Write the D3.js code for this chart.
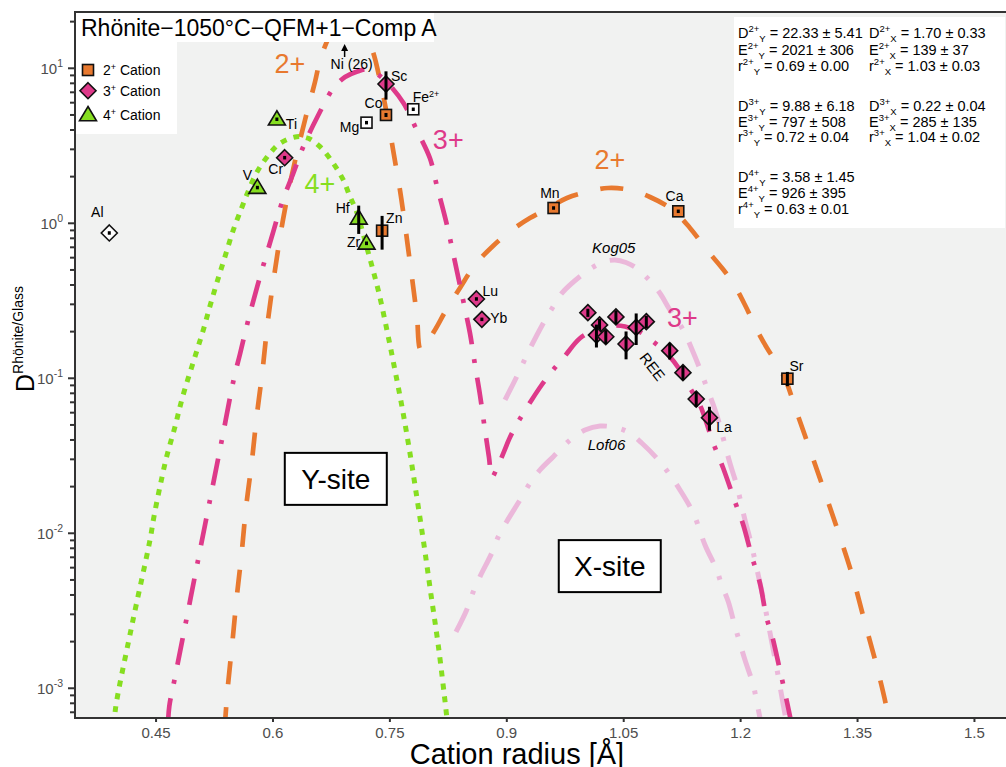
<!DOCTYPE html>
<html>
<head>
<meta charset="utf-8">
<script src="https://cdn.jsdelivr.net/npm/d3@7"></script>
<style>
body { margin: 0; background: #fff; }
svg { font-family: "Liberation Sans", Arial, Helvetica, sans-serif; }
</style>
</head>
<body>
<svg id="chart" width="1006" height="767"></svg>
<script>
// size of the picture and of the grey panel
var svgWidth = 1006;
var svgHeight = 767;
var panel = { left: 75, top: 12, right: 1010, bottom: 718 };

var orange = "#E8792F", magenta = "#DE3A8A", green = "#86DE20", pink = "#EBB8DA";

// axis ticks
var xTicks = [0.45, 0.6, 0.75, 0.9, 1.05, 1.2, 1.35, 1.5];
var xTickLabels = ["0.45", "0.6", "0.75", "0.9", "1.05", "1.2", "1.35", "1.5"];
var yExponents = [-3, -2, -1, 0, 1];

// lattice strain curves: [radius, D]
// 2+ : Y-site fit joined to X-site fit
var curve2 = [[0.5378,5.38e-4],[0.5419,1.0e-3],[0.5478,1.95e-3],[0.5534,3.81e-3],[0.5598,7.43e-3],[0.5654,0.01463],[0.5727,0.02854],[0.5791,0.05654],[0.5863,0.1093],[0.5936,0.2377],[0.6026,0.4995],[0.6128,1.05],[0.6257,2.21],[0.6411,4.64],[0.6539,8.16],[0.6616,11.83],[0.6770,17.67],[0.6962,22.74],[0.7116,19.03],[0.7270,13.32],[0.7386,7.80],[0.7475,4.64],[0.7552,2.76],[0.7629,1.64],[0.7694,0.975],[0.7745,0.624],[0.7796,0.400],[0.7848,0.2486],[0.7899,0.1523],[0.8078,0.2049],[0.8207,0.2677],[0.8399,0.3826],[0.8592,0.5383],[0.8823,0.7138],[0.9066,0.9051],[0.9297,1.082],[0.9515,1.237],[0.9772,1.456],[1.0029,1.592],[1.0298,1.689],[1.0580,1.640],[1.0837,1.478],[1.1132,1.218],[1.1350,0.9326],[1.1568,0.6725],[1.1761,0.5147],[1.1902,0.412],[1.2056,0.2971],[1.2210,0.2049],[1.2338,0.1568],[1.2467,0.1237],[1.2582,0.0961],[1.2697,0.0653],[1.2890,0.0345],[1.3082,0.0182],[1.3275,9.46e-3],[1.3442,5.15e-3],[1.3595,2.64e-3],[1.3749,1.37e-3],[1.3878,7.24e-4],[1.3916,5.38e-4]];
// 3+ : Y-site fit joined to X-site fit
var curve3 = [[0.4653,5.80e-4],[0.4670,7.66e-4],[0.4743,1.178e-3],[0.4888,2.76e-3],[0.5027,6.26e-3],[0.5196,0.01682],[0.5359,0.04371],[0.5497,0.09867],[0.5577,0.1435],[0.5683,0.2377],[0.5833,0.4502],[0.6004,0.8826],[0.6112,1.346],[0.6260,2.101],[0.6389,3.121],[0.6561,4.758],[0.6774,7.430],[0.6924,8.789],[0.7074,9.508],[0.7200,9.824],[0.7334,9.189],[0.7459,8.155],[0.7672,5.999],[0.7844,4.000],[0.8014,2.626],[0.8100,1.766],[0.8229,0.9897],[0.8357,0.4995],[0.8442,0.3152],[0.8527,0.1960],[0.8592,0.1218],[0.8656,0.0780],[0.8720,0.04639],[0.8771,0.03108],[0.8810,0.02307],[0.8874,0.02637],[0.8955,0.03281],[0.9041,0.04161],[0.9147,0.05248],[0.9319,0.07245],[0.9447,0.09052],[0.9576,0.1103],[0.9725,0.1352],[0.9939,0.1812],[1.0131,0.2049],[1.0281,0.2153],[1.0401,0.2191],[1.0516,0.2159],[1.0709,0.1989],[1.0879,0.1722],[1.1051,0.1450],[1.1222,0.1131],[1.1350,0.0866],[1.1478,0.0673],[1.1649,0.03824],[1.1777,0.02627],[1.1927,0.01600],[1.2034,0.01131],[1.2142,7.14e-3],[1.2248,4.76e-3],[1.2334,2.83e-3],[1.2400,2.21e-3],[1.2500,1.34e-3],[1.2600,7.92e-4],[1.2650,6.00e-4]];
// 4+ : Y-site only
var curve4 = [[0.3966,5.80e-4],[0.3979,7.35e-4],[0.4191,2.56e-3],[0.4422,9.05e-3],[0.4473,0.0128],[0.4550,0.01998],[0.4636,0.0312],[0.4743,0.04872],[0.4841,0.07607],[0.4999,0.1378],[0.5106,0.2049],[0.5192,0.2927],[0.5278,0.4101],[0.5384,0.6089],[0.5491,0.9053],[0.5598,1.255],[0.5663,1.522],[0.5795,2.143],[0.5962,2.829],[0.6090,3.282],[0.6304,3.620],[0.6453,3.535],[0.6603,3.121],[0.6774,2.438],[0.6902,1.903],[0.6988,1.484],[0.7065,1.218],[0.7225,0.640],[0.7360,0.3535],[0.7488,0.1767],[0.7552,0.1218],[0.7655,0.0656],[0.7758,0.0328],[0.7851,0.0164],[0.7941,8.19e-3],[0.8025,4.10e-3],[0.8123,1.855e-3],[0.8220,7.24e-4],[0.8240,5.80e-4]];
// literature X-site 3+ curves
var kog05 = [[0.8977,0.07245],[0.9127,0.1024],[0.9276,0.1478],[0.9468,0.2263],[0.9576,0.2800],[0.9704,0.3535],[0.9961,0.4638],[1.0131,0.5303],[1.0260,0.5670],[1.0388,0.5798],[1.0529,0.5587],[1.0666,0.5125],[1.0815,0.4372],[1.0965,0.3535],[1.1093,0.2758],[1.1264,0.2049],[1.1379,0.1523],[1.1478,0.1148],[1.1568,0.0866],[1.1645,0.0683],[1.1713,0.05383],[1.1863,0.02828],[1.1949,0.02049],[1.2056,0.01218],[1.2133,8.66e-3],[1.2248,4.78e-3],[1.2295,3.71e-3],[1.2402,1.96e-3],[1.2451,1.46e-3],[1.2543,8.04e-4],[1.2582,6.24e-4],[1.2595,5.38e-4]];
var lof06 = [[0.8348,2.31e-3],[0.8485,3.20e-3],[0.8570,4.20e-3],[0.8656,5.25e-3],[0.8806,7.43e-3],[0.8891,9.51e-3],[0.8998,0.01188],[0.9169,0.01640],[0.9297,0.02102],[0.9426,0.02561],[0.9596,0.03120],[0.9811,0.03998],[1.0003,0.04638],[1.0196,0.04923],[1.0388,0.04815],[1.0555,0.04503],[1.0731,0.03824],[1.0965,0.02896],[1.1094,0.02377],[1.1222,0.01903],[1.1393,0.01346],[1.1543,8.41e-3],[1.1693,5.80e-3],[1.1757,4.64e-3],[1.1842,3.62e-3],[1.1928,2.50e-3],[1.1992,1.95e-3],[1.2056,1.52e-3],[1.2162,1.05e-3],[1.2206,8.20e-4],[1.2248,6.43e-4],[1.2268,5.38e-4]];

// measured partition coefficients: [name, radius, D, sd]
var cations2 = [["Co",0.745,5.0,0.15],["Zn",0.74,0.896,0.22],["Mn",0.96,1.255,0.03],["Ca",1.12,1.195,0.03],["Sr",1.26,0.0994,0.0105]];
var cations3 = [["Sc",0.745,7.92,1.64],["Cr",0.615,2.65,0.06],["Lu",0.861,0.325,0.005],["Yb",0.868,0.240,0.004],
  ["Er",1.004,0.265,0.016],["Tb",1.040,0.249,0.025],["Y",1.019,0.221,0.021],["Ho",1.015,0.190,0.032],["Dy",1.027,0.1855,0.019],
  ["Eu",1.066,0.213,0.049],["Sm",1.079,0.232,0.021],["Gd",1.053,0.1665,0.034],["Nd",1.109,0.1507,0.0185],["Pr",1.126,0.1087,0.0113],
  ["Ce",1.143,0.0735,0.0082],["La",1.160,0.0557,0.0098]];
var cations4 = [["Ti",0.605,4.69,0.1],["V",0.58,1.70,0.04],["Hf",0.71,1.077,0.223],["Zr",0.72,0.743,0.02]];
var unfitted2 = [["Mg",0.72,4.46,0.1],["Fe",0.78,5.44,0.14]];
var unfitted3 = [["Al",0.39,0.866,0.02]];
var offScale = [["Ni",0.69,26]];

// point labels: [name, dx, dy, anchor]
var pointLabels = [["Al",-12,-21,"middle"],["Ti",9,5,"start"],["V",-10,-13,"middle"],["Cr",-9,11.5,"middle"],
  ["Hf",-16,-10,"middle"],["Zr",-13,-1,"middle"],["Zn",4,-12.5,"start"],["Co",-12.5,-11.7,"middle"],
  ["Mg",-17,4,"middle"],["Sc",5,-8,"start"],["Mn",-3.7,-15.5,"middle"],["Ca",-3.7,-15.3,"middle"],
  ["Sr",9,-12.7,"middle"],["Lu",6,-8.2,"start"],["Yb",8.4,-1,"start"],["La",6.7,9,"start"]];

// curve annotations placed in data space: [text, radius, D]
var chargeNotes = [["2+",0.6218,10.77,orange],["3+",0.8249,3.488,magenta],["4+",0.6603,1.812,green],
  ["2+",1.0324,2.598,orange],["3+",1.1254,0.2467,magenta]];
var refNotes = [["Kog05",1.0372,0.7014],["Lof06",1.0279,0.0374]];
var siteBoxes = [["Y-site",0.6806,0.02244],["X-site",1.0321,6.14e-3]];

// fit results printed top right: [symbol, charge, site, value, error]
var statsY = [["D","2+","Y","22.33","5.41"],["E","2+","Y","2021","306"],["r","2+","Y","0.69","0.00"],
  ["D","3+","Y","9.88","6.18"],["E","3+","Y","797","508"],["r","3+","Y","0.72","0.04"],
  ["D","4+","Y","3.58","1.45"],["E","4+","Y","926","395"],["r","4+","Y","0.63","0.01"]];
var statsX = [["D","2+","X","1.70","0.33"],["E","2+","X","139","37"],["r","2+","X","1.03","0.03"],
  ["D","3+","X","0.22","0.04"],["E","3+","X","285","135"],["r","3+","X","1.04","0.02"]];
var statRows = [38.3, 54.5, 70.5, 110.7, 126.7, 142, 182.3, 198.3, 213.8];

var x = d3.scaleLinear().domain([0.346, 1.5456]).range([panel.left, panel.right]);
var y = d3.scaleLog().domain([6.43e-4, 23.08]).range([panel.bottom, panel.top]);

var svg = d3.select("#chart");

svg.append("defs").append("clipPath").attr("id", "clip")
  .append("rect")
  .attr("x", panel.left).attr("y", panel.top)
  .attr("width", panel.right - panel.left).attr("height", panel.bottom - panel.top);

svg.append("rect")
  .attr("x", panel.left).attr("y", panel.top)
  .attr("width", panel.right - panel.left).attr("height", panel.bottom - panel.top)
  .attr("fill", "#f1f2f1");

var plot = svg.append("g").attr("clip-path", "url(#clip)");

var line = d3.line()
  .x(d => x(d[0]))
  .y(d => y(d[1]))
  .curve(d3.curveCatmullRom.alpha(0.5));

//curves: data, colour, dash, width
var curves = [
  [kog05, pink, "26,15,4,15", 5],
  [lof06, pink, "26,15,4,15", 5],
  [curve2, orange, "23,23", 4.7],
  [curve4, green, "6,7", 5],
  [curve3, magenta, "27,15,4,15", 4.7]
];
curves.forEach(c => {
  plot.append("path")
    .attr("d", line(c[0]))
    .attr("fill", "none")
    .attr("stroke", c[1])
    .attr("stroke-width", c[3])
    .attr("stroke-dasharray", c[2]);
});

// site boxes
siteBoxes.forEach(b => {
  var g = plot.append("g").attr("transform", `translate(${x(b[1])},${y(b[2])})`);
  g.append("rect").attr("x", -51).attr("y", -26).attr("width", 102).attr("height", 52)
    .attr("fill", "#fff").attr("stroke", "#000").attr("stroke-width", 2);
  g.append("text").text(b[0]).attr("text-anchor", "middle").attr("dy", "0.36em")
    .attr("font-size", 28);
});

// curve notes
chargeNotes.forEach(n => {
  plot.append("text").text(n[0])
    .attr("x", x(n[1])).attr("y", y(n[2]))
    .attr("dy", "0.36em").attr("text-anchor", "middle")
    .attr("font-size", 27).attr("fill", n[3]);
});
refNotes.forEach(n => {
  plot.append("text").text(n[0])
    .attr("x", x(n[1])).attr("y", y(n[2]))
    .attr("dy", "0.36em").attr("text-anchor", "middle")
    .attr("font-size", 15).attr("font-style", "italic");
});
plot.append("text").text("REE")
  .attr("transform", `translate(${x(1.0869)},${y(0.1188)}) rotate(52)`)
  .attr("text-anchor", "middle").attr("dy", "0.36em").attr("font-size", 15);

// marker shapes
function drawMarker(g, shape, fill) {
  if (shape === "square") {
    g.append("rect").attr("x", -5.5).attr("y", -5.5).attr("width", 11).attr("height", 11)
      .attr("fill", fill).attr("stroke", "#111").attr("stroke-width", 1.6);
  } else if (shape === "diamond") {
    g.append("path").attr("d", "M0,-8L8,0L0,8L-8,0Z")
      .attr("fill", fill).attr("stroke", "#111").attr("stroke-width", 1.6);
  } else {
    g.append("path").attr("d", "M0,-8.5L8.5,5.8L-8.5,5.8Z")
      .attr("fill", fill).attr("stroke", "#111").attr("stroke-width", 1.6);
  }
}

function drawPoints(data, shape, fill) {
  data.forEach(p => {
    var g = plot.append("g").attr("transform", `translate(${x(p[1])},${y(p[2])})`);
    drawMarker(g, shape, fill);
    var top = y(p[2] + p[3]) - y(p[2]);
    var bot = y(p[2] - p[3]) - y(p[2]);
    if (bot - top < 3.5) { top = -1.75; bot = 1.75; }
    g.append("rect").attr("x", -1.5).attr("y", top).attr("width", 3).attr("height", bot - top)
      .attr("fill", "#000");
  });
}

drawPoints(unfitted2, "square", "#fff");
drawPoints(unfitted3, "diamond", "#fff");
drawPoints(cations4, "triangle", green);
drawPoints(cations2, "square", orange);
drawPoints(cations3, "diamond", magenta);

// point labels
var allPoints = cations2.concat(cations3, cations4, unfitted2, unfitted3);
pointLabels.forEach(l => {
  var p = allPoints.find(q => q[0] === l[0]);
  plot.append("text").text(l[0])
    .attr("x", x(p[1]) + l[1]).attr("y", y(p[2]) + l[2])
    .attr("dy", "0.36em").attr("text-anchor", l[3]).attr("font-size", 14);
});
var fe = unfitted2[1];
var feText = plot.append("text")
  .attr("x", x(fe[1]) - 0.6).attr("y", y(fe[2]) - 12.6)
  .attr("dy", "0.36em").attr("font-size", 14);
feText.append("tspan").text("Fe");
feText.append("tspan").attr("font-size", 9).attr("dy", -5).text("2+");

// Ni is off the scale: arrow and value
offScale.forEach(p => {
  var px = x(p[1]) + 1.5;
  plot.append("line").attr("x1", px).attr("x2", px).attr("y1", 57).attr("y2", 49)
    .attr("stroke", "#000").attr("stroke-width", 1.5);
  plot.append("path").attr("d", `M${px - 3.5},51L${px},44L${px + 3.5},51Z`).attr("fill", "#000");
  plot.append("text").text(p[0] + " (" + p[2] + ")")
    .attr("x", px + 7).attr("y", 64).attr("dy", "0.36em")
    .attr("text-anchor", "middle").attr("font-size", 14);
});

// title box
svg.append("rect").attr("x", panel.left).attr("y", panel.top).attr("width", 359).attr("height", 30)
  .attr("fill", "#fff");
svg.append("text").text("Rh\u00f6nite\u22121050\u00b0C\u2212QFM+1\u2212Comp A")
  .attr("x", 81).attr("y", 36).attr("font-size", 23);

// legend
var legend = svg.append("g");
legend.append("rect").attr("x", panel.left).attr("y", 42).attr("width", 102).attr("height", 92)
  .attr("fill", "#fff");
var legendItems = [["2", "square", orange], ["3", "diamond", magenta], ["4", "triangle", green]];
var legendRows = [70, 90.7, 115];
legendItems.forEach((it, i) => {
  var g = legend.append("g").attr("transform", `translate(88,${legendRows[i]})`);
  drawMarker(g, it[1], it[2]);
  var t = legend.append("text").attr("x", 103).attr("y", legendRows[i]).attr("dy", "0.36em")
    .attr("font-size", 14);
  t.append("tspan").text(it[0]);
  t.append("tspan").attr("font-size", 9).attr("dy", -5).text("+");
  t.append("tspan").attr("dy", 5).text(" Cation");
});

// stats box
var stats = svg.append("g");
stats.append("rect").attr("x", 734).attr("y", 17).attr("width", 271).attr("height", 211)
  .attr("fill", "#fff");
function statLine(xpos, ypos, s) {
  var t = stats.append("text").attr("x", xpos).attr("y", ypos).attr("font-size", 14.5);
  t.append("tspan").text(s[0]);
  t.append("tspan").attr("font-size", 9.5).attr("dy", -6).text(s[1]);
  t.append("tspan").attr("font-size", 9.5).attr("dy", 10).text(s[2]);
  t.append("tspan").attr("dy", -4).text(" = " + s[3] + " \u00b1 " + s[4]);
}
statsY.forEach((s, i) => statLine(738, statRows[i], s));
statsX.forEach((s, i) => statLine(869, statRows[i], s));

// axes
var axisColor = "#333";
svg.append("line").attr("x1", panel.left).attr("x2", panel.left).attr("y1", panel.top).attr("y2", panel.bottom + 1)
  .attr("stroke", axisColor).attr("stroke-width", 2);
svg.append("line").attr("x1", panel.left - 1).attr("x2", svgWidth).attr("y1", panel.bottom).attr("y2", panel.bottom)
  .attr("stroke", axisColor).attr("stroke-width", 2);
svg.append("line").attr("x1", panel.left - 1).attr("x2", svgWidth).attr("y1", panel.top).attr("y2", panel.top)
  .attr("stroke", axisColor).attr("stroke-width", 2);

var xAxis = svg.append("g");
xTicks.forEach((t, i) => {
  xAxis.append("line").attr("x1", x(t)).attr("x2", x(t)).attr("y1", panel.bottom).attr("y2", panel.bottom + 4)
    .attr("stroke", axisColor).attr("stroke-width", 2);
  xAxis.append("text").text(xTickLabels[i]).attr("x", x(t)).attr("y", 738)
    .attr("text-anchor", "middle").attr("font-size", 15).attr("fill", "#4d4d4d");
});

var yAxis = svg.append("g");
yExponents.forEach(e => {
  var v = Math.pow(10, e);
  yAxis.append("line").attr("x1", panel.left - 7).attr("x2", panel.left).attr("y1", y(v)).attr("y2", y(v))
    .attr("stroke", axisColor).attr("stroke-width", 2);
  var t = yAxis.append("text").attr("x", 63).attr("y", y(v) + 5.5).attr("text-anchor", "end")
    .attr("font-size", 15).attr("fill", "#4d4d4d");
  t.append("tspan").text("10");
  t.append("tspan").attr("font-size", 10.5).attr("dy", -6.5).text(e);
});
// minor ticks
d3.range(-4, 2).forEach(e => {
  d3.range(2, 10).forEach(m => {
    var v = m * Math.pow(10, e);
    if (v < y.domain()[0] || v > y.domain()[1]) return;
    yAxis.append("line").attr("x1", panel.left - 5).attr("x2", panel.left).attr("y1", y(v)).attr("y2", y(v))
      .attr("stroke", axisColor).attr("stroke-width", 2);
  });
});

// axis titles
svg.append("text").text("Cation radius [\u00c5]")
  .attr("x", 517).attr("y", 764).attr("text-anchor", "middle").attr("font-size", 29);
var yTitle = svg.append("text").attr("transform", "translate(34,392) rotate(-90)");
yTitle.append("tspan").attr("font-size", 25).text("D");
yTitle.append("tspan").attr("font-size", 14).attr("dy", -11).text("Rh\u00f6nite/Glass");
</script>
</body>
</html>
